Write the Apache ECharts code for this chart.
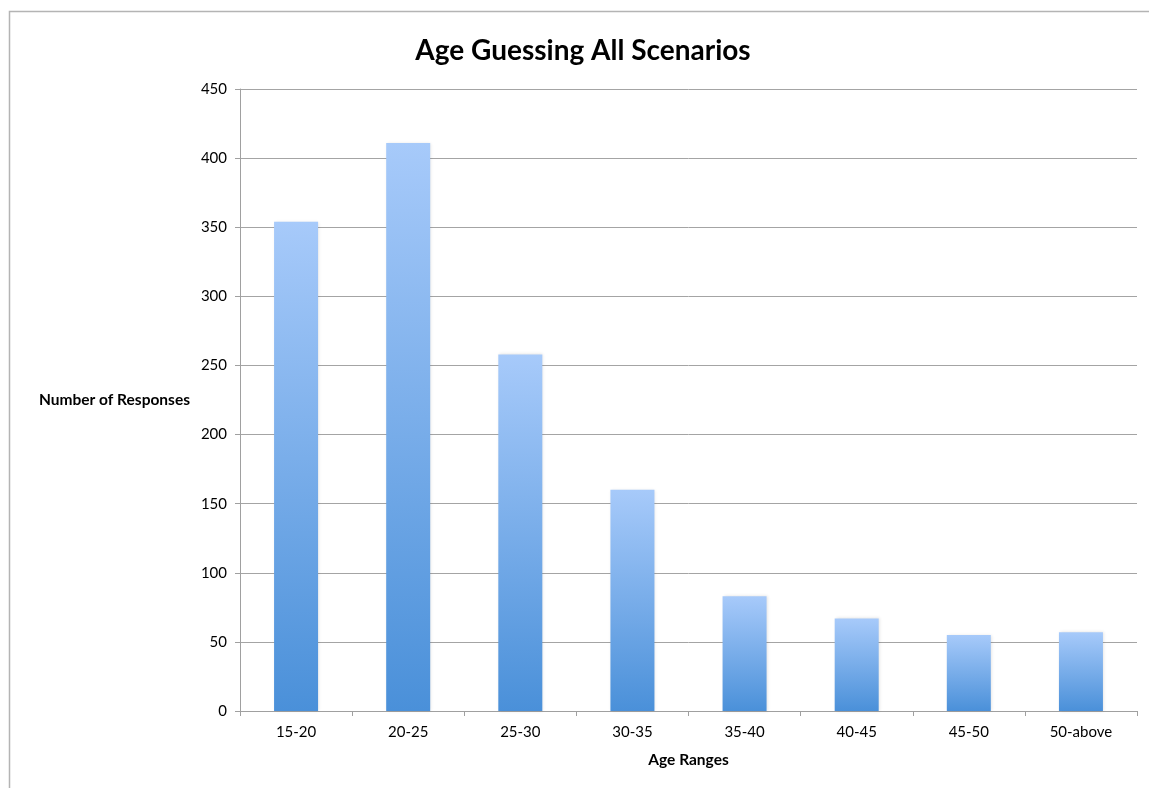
<!DOCTYPE html>
<html>
<head>
<meta charset="utf-8">
<script src="https://cdn.jsdelivr.net/npm/echarts@6/dist/echarts.min.js"></script>
<style>
html,body{margin:0;padding:0;background:#fff;}
#chart{width:1149px;height:788px;}
</style>
</head>
<body>
<div id="chart"></div>
<script>
const categories = ['15-20','20-25','25-30','30-35','35-40','40-45','45-50','50-above'];
const responses = [354, 411, 258, 160, 83, 67, 55, 57];
const yTicks = {min: 0, max: 450, interval: 50};

const FONT = 'Lato, "Open Sans", sans-serif';
const chart = echarts.init(document.getElementById('chart'));
chart.setOption({
  animation: false,
  backgroundColor: '#fff',
  title: {
    text: 'Age Guessing All Scenarios',
    left: 578, top: 32, textAlign: 'center',
    textStyle: {fontFamily: FONT, fontSize: 28, fontWeight: 'bold', color: '#000'}
  },
  graphic: [{
    type: 'rect', silent: true,
    shape: {x: 9.5, y: 11.5, width: 1300, height: 900},
    style: {fill: 'none', stroke: '#b4b4b4', lineWidth: 1.5}
  }],
  grid: {left: 240, right: 12, top: 89, bottom: 77, containLabel: false},
  xAxis: {
    type: 'category', data: categories,
    name: 'Age Ranges', nameLocation: 'middle', nameGap: 41,
    nameTextStyle: {fontFamily: FONT, fontSize: 15.5, fontWeight: 'bold', color: '#000'},
    axisLine: {lineStyle: {color: '#a0a0a0', width: 1}},
    axisTick: {show: true, alignWithLabel: false, length: 5, lineStyle: {color: '#a0a0a0'}},
    axisLabel: {fontFamily: FONT, fontSize: 15, color: '#000', margin: 14}
  },
  yAxis: {
    type: 'value', min: yTicks.min, max: yTicks.max, interval: yTicks.interval,
    name: 'Number of Responses', nameLocation: 'middle', nameRotate: 0, nameGap: 50,
    nameTextStyle: {fontFamily: FONT, fontSize: 15.5, fontWeight: 'bold', color: '#000', align: 'right'},
    axisLine: {show: true, lineStyle: {color: '#a0a0a0', width: 1}},
    axisTick: {show: true, length: 5, lineStyle: {color: '#a0a0a0'}},
    axisLabel: {fontFamily: FONT, fontSize: 15, color: '#000', margin: 13},
    splitLine: {show: true, lineStyle: {color: '#a4a4a4', width: 1}}
  },
  series: [{
    type: 'bar', data: responses, barWidth: 44,
    itemStyle: {
      color: new echarts.graphic.LinearGradient(0, 0, 0, 1, [
        {offset: 0, color: '#a7cafa'},
        {offset: 1, color: '#4a90d9'}
      ]),
      shadowColor: 'rgba(0,0,0,0.12)', shadowBlur: 3, shadowOffsetX: 1, shadowOffsetY: 0
    }
  }]
});
</script>
</body>
</html>
